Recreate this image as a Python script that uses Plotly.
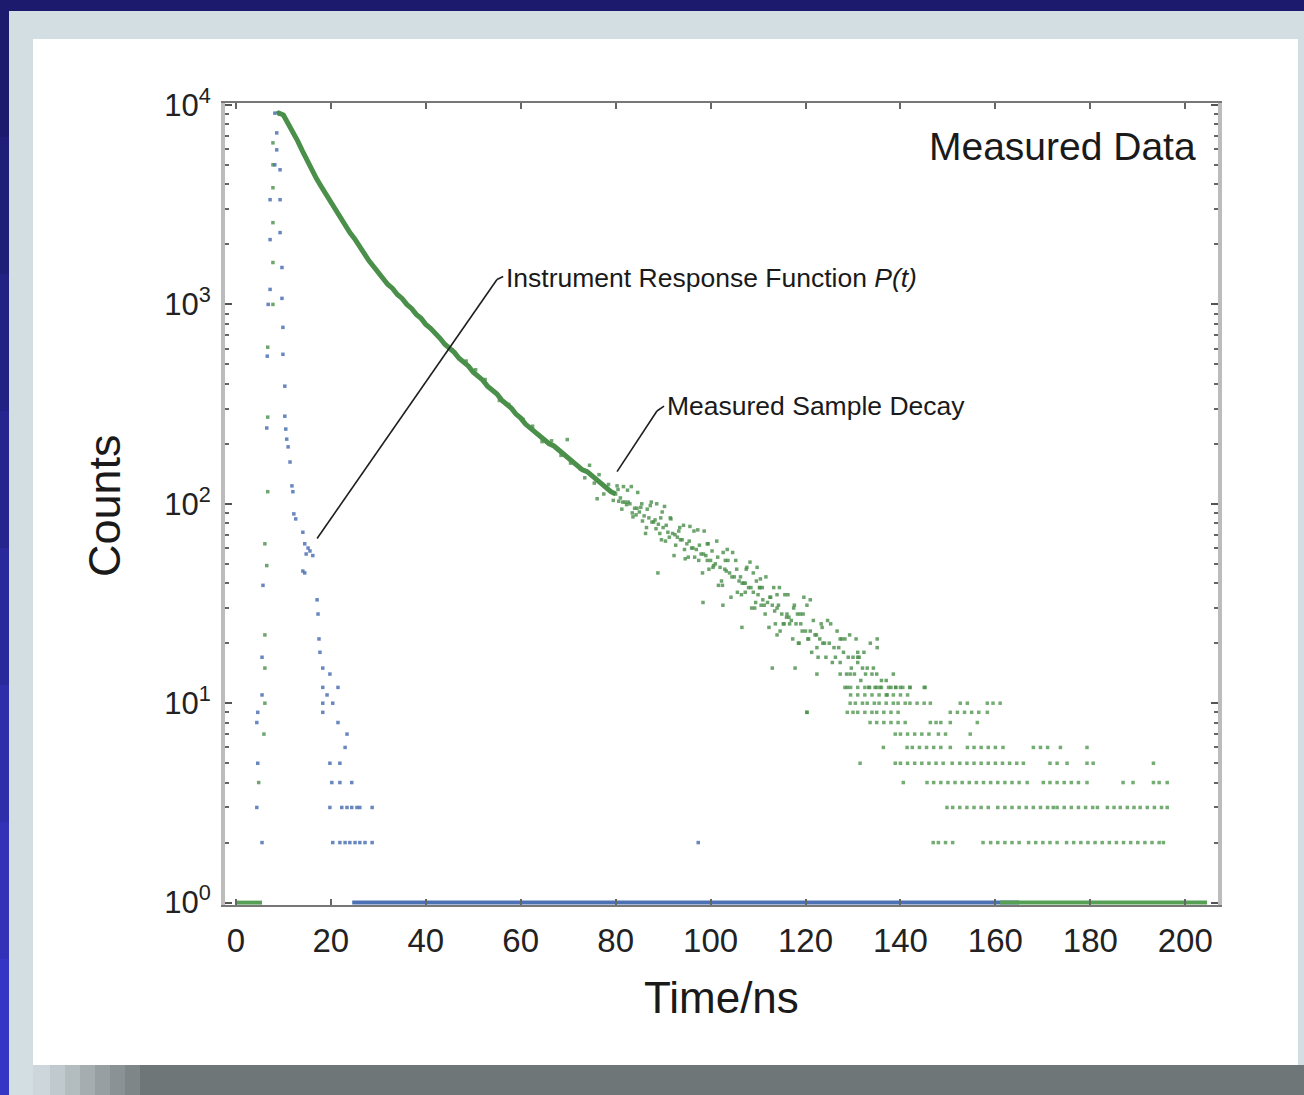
import plotly.graph_objects as go

# ---- data (time in ns, counts) ----

# measured sample decay, smooth part of the curve
decay_t = [8.6, 9, 10, 11, 12, 13, 14, 15, 16, 17, 18, 19, 20, 21, 22, 23, 24, 25, 26, 27,
           28, 29, 30, 31, 32, 33, 34, 35, 36, 37, 38, 39, 40, 41, 42, 43, 44, 45, 46, 47,
           48, 49, 50, 51, 52, 53, 54, 55, 56, 57, 58, 59, 60, 61, 62, 63, 64, 65, 66, 67,
           68, 69, 70, 71, 72, 73, 74, 75, 76, 77, 78, 79, 80]
decay_counts = [9000, 9120, 8913, 8128, 7413, 6607, 5888, 5248, 4786, 4266, 3890, 3548, 3236,
                2951, 2754, 2512, 2291, 2138, 1950, 1820, 1660, 1549, 1445, 1349, 1259, 1202,
                1122, 1072, 1000, 955, 891, 851, 794, 759, 708, 676, 631, 603, 575, 537, 513,
                490, 457, 437, 417, 389, 372, 355, 331, 316, 302, 282, 269, 251, 240, 229, 219,
                209, 200, 195, 186, 178, 170, 162, 155, 148, 145, 138, 132, 126, 120, 115, 112]

# rising edge of the sample decay
rise_t = [4.8, 5.9, 6.1, 6.1, 6.1, 6.1, 6.5, 6.7, 6.7, 6.7, 7.8, 7.8, 7.8, 7.8, 7.8, 7.8]
rise_counts = [4, 7, 10, 15, 22, 63, 49, 115, 272, 610, 1000, 1622, 2570, 3846, 5012, 6457]

# noisy part of the sample decay (80 - 140 ns)
band_t = [80, 81, 82, 83, 84, 85, 86, 87, 88, 89, 90, 91, 92, 93, 94, 95, 96, 97, 98, 99,
          100, 101, 102, 103, 104, 105, 106, 107, 108, 109, 110, 111, 112, 113, 114, 115, 116,
          117, 118, 119, 120, 121, 122, 123, 124, 125, 126, 127, 128, 129, 130, 131, 132, 133,
          134, 135, 136, 137, 138, 139, 140]
band_counts = [112, 107, 102, 100, 95, 91, 87, 85, 81, 79, 76, 72, 71, 68, 66, 63, 60, 59, 56,
               55, 52, 50, 48, 47, 45, 43, 41, 40, 38, 36, 35, 33, 32, 31, 30, 28, 27, 26, 25,
               25, 23, 23, 22, 21, 20, 20, 19, 19, 18, 17, 17, 16, 15, 15, 14, 14, 13, 13, 12,
               12, 12]
spread_a_t = [80.3, 81.3, 82.3, 83.3, 84.3, 85.3, 86.3, 87.3, 88.3, 89.3, 90.3, 91.3, 92.3,
              93.3, 94.3, 95.3, 96.3, 97.3, 98.3, 99.3, 100.3, 101.3, 102.3, 103.3, 104.3,
              105.3, 106.3, 107.3, 108.3, 109.3, 110.3, 111.3, 112.3, 113.3, 114.3, 115.3,
              116.3, 117.3, 118.3, 119.3, 120.3, 121.3, 122.3, 123.3, 124.3, 125.3, 126.3,
              127.3, 128.3, 129.3, 130.3, 131.3, 132.3, 133.3, 134.3]
spread_a_counts = [123, 94, 99, 122, 88, 96, 71, 98, 83, 71, 97, 68, 55, 73, 78, 54, 60, 74,
                   45, 52, 58, 65, 41, 46, 34, 52, 43, 36, 51, 30, 38, 31, 24, 38, 31, 25, 35,
                   21, 28, 23, 31, 18, 22, 25, 17, 25, 17, 14, 21, 22, 14, 17, 18, 12, 15]
spread_b_t = [80.65, 81.65, 82.65, 83.65, 84.65, 85.65, 86.65, 87.65, 88.65, 89.65, 90.65,
              91.65, 92.65, 93.65, 94.65, 95.65, 96.65, 97.65, 98.65, 99.65, 100.65, 101.65,
              102.65, 103.65, 104.65, 105.65, 106.65, 107.65, 108.65, 109.65, 110.65, 111.65,
              112.65, 113.65, 114.65, 115.65, 116.65, 117.65, 118.65, 119.65, 120.65, 121.65,
              122.65, 123.65, 124.65, 125.65, 126.65, 127.65, 128.65, 129.65, 130.65, 131.65,
              132.65, 133.65, 134.65]
spread_b_counts = [103, 122, 102, 86, 114, 82, 94, 81, 100, 66, 78, 84, 62, 66, 53, 77, 54, 62,
                   73, 47, 49, 39, 57, 52, 57, 36, 40, 48, 30, 41, 31, 43, 34, 25, 23, 35, 25,
                   31, 20, 34, 21, 26, 17, 20, 26, 16, 23, 21, 14, 15, 21, 13, 14, 20, 12]
spread_c_t = [80.5, 81.5, 82.5, 83.5, 84.5, 85.5, 86.5, 87.5, 88.5, 89.5, 90.5, 91.5, 92.5,
              93.5, 94.5, 95.5, 96.5, 97.5, 98.5, 99.5, 100.5, 101.5, 102.5, 103.5, 104.5,
              105.5, 106.5, 107.5, 108.5, 109.5, 110.5, 111.5, 112.5, 113.5, 114.5, 115.5,
              116.5, 117.5, 118.5, 119.5, 120.5]
spread_c_counts = [118, 102, 117, 90, 95, 100, 76, 102, 75, 85, 65, 85, 70, 76, 59, 65, 73, 52,
                   56, 63, 48, 54, 39, 59, 43, 47, 35, 47, 38, 32, 42, 28, 34, 29, 38, 25, 27,
                   30, 20, 28, 21]

# stray points off the band
stray_t = [45.5, 48.5, 50.5, 52.5, 55.5, 57.5, 60.5, 62.5, 64.5, 66.5, 68.5, 69.8, 70.5, 72.5,
           73.5, 74.5, 75.5, 76.1, 76.5, 77.5, 78.5, 79.5, 88.9, 89.8, 98.4, 99.3, 102.6, 103.1,
           106.6, 107.3, 109.0, 109.8, 110.4, 110.9, 113.0, 114.0, 114.0, 116.1, 117.8, 118.9,
           120.3, 121.0, 122.4, 122.4, 123.5, 127.3, 127.3, 128.8, 129.4, 131.0, 131.0, 135.1,
           135.1, 135.7, 137.2, 138.5, 142.0, 145.2]
stray_counts = [590, 520, 470, 420, 330, 315, 265, 245, 205, 207, 175, 210, 160, 150, 135, 156,
                127, 106, 140, 112, 125, 104, 45, 91, 32, 63, 31, 52, 24, 40, 45, 48, 38, 38,
                15, 35, 22, 28, 15, 28, 9, 33, 19, 14, 24, 21, 16, 12, 14, 18, 17, 21, 19, 12,
                11, 14, 12, 12]

# late tail: times at which each integer count level was recorded
tail_t_12 = [128.3, 129.5, 131.0, 132.5, 133.5, 135.0, 136.0, 137.5, 139.0, 140.5, 142.0, 145.0]
tail_t_11 = [129.5, 131.0, 132.5, 134.0, 135.5, 137.0, 138.5, 140.0, 141.5]
tail_t_10 = [129.4, 130.5, 132.0, 133.0, 134.5, 135.5, 137.0, 138.5, 139.5, 141.0, 142.0, 143.5,
             145.0, 146.3, 152.6, 154.1, 158.3, 159.5, 161.0]
tail_t_9 = [120.3, 128.8, 130.0, 131.0, 132.5, 134.0, 135.0, 136.5, 138.0, 139.5, 150.5, 152.0,
            153.5, 155.0, 156.5, 158.3]
tail_t_8 = [133.6, 135.0, 136.5, 138.0, 139.5, 141.0, 146.3, 147.5, 148.5, 150.5, 156.2]
tail_t_7 = [138.9, 140.0, 141.5, 143.0, 144.5, 146.0, 148.0, 149.5, 154.7]
tail_t_6 = [136.4, 141.4, 142.5, 144.0, 145.5, 147.0, 148.5, 150.5, 154.1, 155.5, 157.0, 158.5,
            160.0, 161.6, 168.0, 169.5, 171.0, 173.7, 179.3]
tail_t_5 = [131.5, 138.9, 140.0, 141.5, 143.0, 144.5, 146.0, 147.5, 149.0, 150.9, 152.5, 154.0,
            155.5, 157.0, 158.5, 160.0, 161.5, 163.0, 164.5, 165.9, 171.5, 173.0, 175.1, 179.3,
            180.6, 193.3]
tail_t_4 = [140.6, 145.6, 147.0, 148.5, 150.0, 151.5, 153.0, 154.5, 156.0, 157.5, 159.0, 160.5,
            162.0, 163.5, 165.0, 166.7, 170.1, 171.5, 173.0, 174.5, 176.0, 177.5, 179.3, 186.9,
            189.0, 193.3, 194.5, 196.2]
tail_t_3 = [149.8, 151.0, 152.5, 154.0, 155.5, 157.0, 158.5, 160.5, 162.0, 163.5, 165.0, 166.5,
            168.0, 169.5, 171.0, 172.2, 173.0, 174.5, 176.0, 177.5, 179.0, 180.5, 181.5, 183.6,
            185.0, 186.3, 187.8, 189.2, 190.5, 192.0, 193.5, 195.0, 196.2]
tail_t_2 = [146.9, 148.0, 149.5, 151.0, 157.4, 159.0, 160.5, 162.0, 163.5, 165.0, 167.0, 168.5,
            170.0, 171.5, 173.0, 175.0, 176.5, 178.0, 179.5, 181.0, 182.5, 184.0, 185.5, 187.0,
            188.5, 190.0, 191.5, 193.0, 194.5, 195.4]
tail_levels = [12, 11, 10, 9, 8, 7, 6, 5, 4, 3, 2]

# channels with a single count (drawn as a floor)
decay_floor_t = [0.0, 5.5, None, 161.0, 204.6]
decay_floor_counts = [1, 1, None, 1, 1]

# instrument response function P(t)
irf_t = [4.4, 4.4, 4.6, 4.6, 5.5, 5.5, 5.5, 5.7, 6.5, 6.6, 6.8, 7.2, 7.2, 7.2, 8.2, 8.2, 8.6,
         8.6, 9.3, 9.3, 9.3, 9.7, 9.7, 9.9, 9.9, 10.3, 10.3, 10.5, 10.7, 11.0, 11.4, 11.8, 12.0,
         12.2, 12.6, 14.1, 14.5, 14.8, 15.2, 15.6, 16.2, 14.1, 14.5, 17.1, 17.3, 17.5, 17.7,
         18.3, 19.8, 18.3, 21.5, 19.2, 18.3, 20.4, 18.3, 21.5, 23.4, 23.0, 19.8, 21.9, 20.2,
         21.9, 24.4, 19.8, 22.3, 23.4, 24.4, 25.5, 26.1, 28.7, 20.4, 21.9, 23.0, 24.0, 25.1,
         26.1, 27.2, 28.7, 97.4]
irf_counts = [3, 8, 9, 5, 2, 11, 17, 39, 240, 550, 1000, 1189, 2113, 3350, 9100, 5012, 7244,
              5957, 4732, 3350, 2291, 1531, 1072, 767, 562, 389, 275, 237, 211, 193, 162, 123,
              115, 89, 84, 72, 63, 56, 60, 58, 55, 46, 45, 33, 28, 21, 18, 15, 14, 12, 12, 11,
              10, 10, 9, 8, 7, 6, 5, 5, 4, 4, 4, 3, 3, 3, 3, 3, 3, 3, 2, 2, 2, 2, 2, 2, 2, 2, 2]
irf_floor_t = [24.5, 165.0]
irf_floor_counts = [1, 1]

# ---- figure ----
FONT = "Liberation Sans, Arial, sans-serif"
GREEN = "#4a8f4a"
BLUE = "#4d72b4"

# plot area in pixels: x 225..1218, y 103..905
def px_x(p):
    return (p - 225) / 993


def px_y(p):
    return (905 - p) / 802


fig = go.Figure()

fig.add_trace(go.Scatter(x=irf_floor_t, y=irf_floor_counts, mode="lines",
                         line=dict(color=BLUE, width=4), hoverinfo="skip"))
fig.add_trace(go.Scatter(x=decay_floor_t, y=decay_floor_counts, mode="lines",
                         line=dict(color="#55a055", width=4), hoverinfo="skip"))

tail_t = []
tail_counts = []
for lvl, ts in zip(tail_levels, [tail_t_12, tail_t_11, tail_t_10, tail_t_9, tail_t_8, tail_t_7,
                                 tail_t_6, tail_t_5, tail_t_4, tail_t_3, tail_t_2]):
    tail_t += ts
    tail_counts += [lvl] * len(ts)

fig.add_trace(go.Scatter(
    x=tail_t, y=tail_counts, mode="markers",
    marker=dict(symbol="square", size=3.5, color="#5c9e5c", opacity=0.85),
    name="tail"))
fig.add_trace(go.Scatter(
    x=band_t + spread_a_t + spread_b_t + spread_c_t + stray_t + rise_t,
    y=band_counts + spread_a_counts + spread_b_counts + spread_c_counts + stray_counts
    + rise_counts,
    mode="markers",
    marker=dict(symbol="square", size=3.5, color=GREEN, opacity=0.8),
    name="scatter"))
fig.add_trace(go.Scatter(
    x=decay_t, y=decay_counts, mode="lines",
    line=dict(color=GREEN, width=5), name="Measured Sample Decay"))
fig.add_trace(go.Scatter(
    x=irf_t, y=irf_counts, mode="markers",
    marker=dict(symbol="square", size=3.5, color=BLUE, opacity=0.85),
    name="Instrument Response Function"))

# background panels
shapes = [
    dict(type="rect", xref="paper", yref="paper", x0=px_x(9), x1=px_x(1310),
         y0=px_y(11), y1=px_y(1100), fillcolor="#d3dee3", line_width=0, layer="below"),
]
left_strip = ["#1b1a6c", "#1e1d78", "#222184", "#262590", "#2a299c", "#2e2daa", "#3231b8", "#3535c6"]
for i, c in enumerate(left_strip):
    shapes.append(dict(type="rect", xref="paper", yref="paper", x0=px_x(-5), x1=px_x(9),
                       y0=px_y(i * 137), y1=px_y((i + 1) * 137 + 1), fillcolor=c,
                       line_width=0, layer="below"))
shadow = [(33, 50, "#cdd6da"), (50, 65, "#c0c9cd"), (65, 80, "#b3bcbf"), (80, 95, "#a5adb1"),
          (95, 110, "#979fa2"), (110, 125, "#8a9295"), (125, 140, "#7e8688"),
          (140, 1310, "#6e7678")]
for a, b, c in shadow:
    shapes.append(dict(type="rect", xref="paper", yref="paper", x0=px_x(a), x1=px_x(b),
                       y0=px_y(1065), y1=px_y(1100), fillcolor=c, line_width=0, layer="below"))
shapes.append(dict(type="rect", xref="paper", yref="paper", x0=px_x(33), x1=px_x(1298),
                   y0=px_y(39), y1=px_y(1065), fillcolor="white", line_width=0, layer="below"))

# callout lines (time, counts)
for pts in ([(17.1, 67), (55.0, 1334), (56.3, 1380)],
            [(80.3, 145), (88.7, 292), (90.2, 309)]):
    for (xa, ya), (xb, yb) in zip(pts[:-1], pts[1:]):
        shapes.append(dict(type="line", xref="x", yref="y", x0=xa, y0=ya, x1=xb, y1=yb,
                           line=dict(color="#1e1e1e", width=1.6)))

annotations = [
    dict(text="Measured Data", xref="paper", yref="paper", x=px_x(1198), y=px_y(146),
         xanchor="right", yanchor="middle", showarrow=False,
         font=dict(family=FONT, size=39, color="#1a1a1a")),
    dict(text="Instrument Response Function <i>P(t)</i>", xref="x", yref="y", x=56.5, y=3.13,
         xanchor="left", yanchor="middle", showarrow=False,
         font=dict(family=FONT, size=26.5, color="#1a1a1a")),
    dict(text="Measured Sample Decay", xref="x", yref="y", x=90.4, y=2.49,
         xanchor="left", yanchor="middle", showarrow=False,
         font=dict(family=FONT, size=26.5, color="#1a1a1a")),
    dict(text="Counts", xref="paper", yref="paper", x=px_x(105), y=px_y(506),
         textangle=-90, xanchor="center", yanchor="middle", showarrow=False,
         font=dict(family=FONT, size=45, color="#1a1a1a")),
    dict(text="Time/ns", xref="paper", yref="paper", x=px_x(721), y=px_y(997),
         xanchor="center", yanchor="middle", showarrow=False,
         font=dict(family=FONT, size=44, color="#1a1a1a")),
]

minor_y = [m * 10 ** k for k in range(4) for m in range(2, 10)]

fig.update_layout(
    width=1304, height=1095,
    margin=dict(l=225, r=86, t=103, b=190),
    paper_bgcolor="#1b1a6c",
    plot_bgcolor="white",
    showlegend=False,
    shapes=shapes,
    annotations=annotations,
    font=dict(family=FONT, color="#222"),
    xaxis=dict(
        range=[-2.3, 206.9], tickmode="array",
        tickvals=[0, 20, 40, 60, 80, 100, 120, 140, 160, 180, 200],
        ticks="inside", ticklen=6, tickwidth=1.5, tickcolor="#666",
        showline=True, linecolor="#777", linewidth=2, mirror="ticks",
        showgrid=False, zeroline=False,
        tickfont=dict(family=FONT, size=33, color="#222"), ticklabelstandoff=5,
    ),
    yaxis=dict(
        type="log", range=[-0.012, 4.01], tickmode="array",
        tickvals=[1, 10, 100, 1000, 10000],
        ticktext=["10<sup>0</sup>", "10<sup>1</sup>", "10<sup>2</sup>",
                  "10<sup>3</sup>", "10<sup>4</sup>"],
        ticks="inside", ticklen=7, tickwidth=1.5, tickcolor="#555",
        minor=dict(tickmode="array", tickvals=minor_y, ticks="inside", ticklen=4,
                   tickcolor="#666", showgrid=False),
        showline=True, linecolor="#bcbcbc", linewidth=4, mirror="ticks",
        showgrid=False, zeroline=False,
        tickfont=dict(family=FONT, size=31, color="#222"), ticklabelstandoff=4,
    ),
)

fig.write_html("out.html", config={"displayModeBar": False},
               post_script="document.body.style.margin='0';")
